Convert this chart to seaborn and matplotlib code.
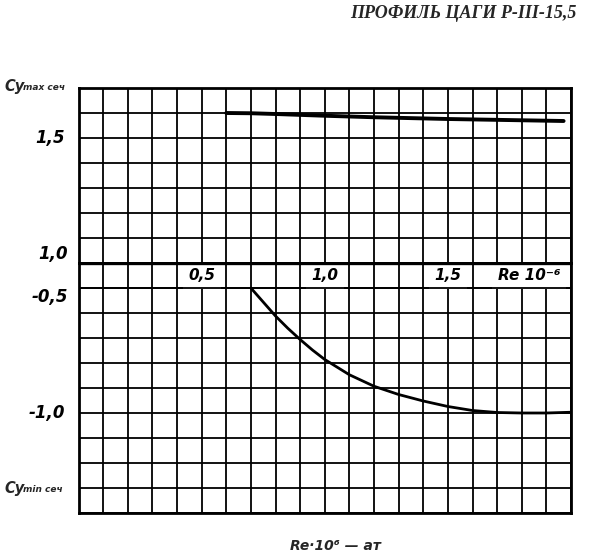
import numpy as np
import pandas as pd
import seaborn as sns
import matplotlib
matplotlib.use("Agg")
import matplotlib.pyplot as plt

# ---- data ----
title = "ПРОФИЛЬ ЦАГИ Р-III-15,5"
re_max = [0.6, 0.7, 0.8, 1.0, 1.2, 1.5, 1.97]
cy_max = [1.600, 1.599, 1.596, 1.589, 1.583, 1.576, 1.568]
re_min = [0.7, 0.75, 0.8, 0.85, 0.9, 0.95, 1.0, 1.1, 1.2, 1.3, 1.4, 1.5, 1.6,
          1.7, 1.8, 1.9, 2.0]
cy_min = [-0.5, -0.556, -0.612, -0.661, -0.706, -0.748, -0.786, -0.847, -0.893,
          -0.926, -0.952, -0.974, -0.99, -0.998, -1.0, -1.0, -0.997]
x_tick_values = [0.5, 1.0, 1.5]
x_tick_labels = ["0,5", "1,0", "1,5"]
upper_tick_values = [1.5, 1.0]
upper_tick_labels = ["1,5", "1,0"]
lower_tick_values = [-0.5, -1.0]
lower_tick_labels = ["-0,5", "-1,0"]
x_axis_label = "Re 10⁻⁶"
upper_range = (1.0, 1.7)
lower_range = (-1.4, -0.4)
x_range = (0.0, 2.0)

sns.set_style("white")
plt.rcParams['font.family'] = ['DejaVu Sans']

W, H = 609, 554
fig = plt.figure(figsize=(W / 100, H / 100), dpi=100)
L, R = 78.5 / W, 571 / W
ax_top = fig.add_axes([L, 1 - 263 / H, R - L, 175 / H])
ax_bot = fig.add_axes([L, 1 - 513 / H, R - L, 250 / H])

for ax, (lo, hi) in ((ax_top, upper_range), (ax_bot, lower_range)):
    ax.set_xlim(*x_range)
    ax.set_ylim(lo, hi)
    ax.set_xticks(np.round(np.arange(x_range[0], x_range[1] + 1e-6, 0.1), 2))
    ax.set_yticks(np.round(np.arange(lo, hi + 1e-6, 0.1), 2))
    ax.grid(True, color="black", lw=1.3)
    ax.set_axisbelow(True)
    ax.tick_params(length=0, labelbottom=False, labelleft=False)
    ax.set_xlabel("")
    ax.set_ylabel("")
    for s in ax.spines.values():
        s.set_linewidth(2.0)
        s.set_color("black")

sns.lineplot(x=re_max, y=cy_max, ax=ax_top, color="black", lw=2.8,
             estimator=None, sort=False)
sns.lineplot(x=re_min, y=cy_min, ax=ax_bot, color="black", lw=2.0,
             estimator=None, sort=False)

lab_kw = dict(fontsize=11, style="italic", weight="bold", color="black")
box = dict(fc="white", ec="none", pad=4)
row_y = (lower_range[1] + lower_tick_values[0]) / 2
for v, lab in zip(x_tick_values, x_tick_labels):
    ax_bot.text(v, row_y, lab, ha="center", va="center", bbox=box, zorder=5, **lab_kw)
ax_bot.text(1.83, row_y, x_axis_label, ha="center", va="center",
            bbox=box, zorder=5, **lab_kw)
# redraw the two horizontal lines bounding the label row above the label boxes
ax_bot.axhline(lower_range[1], color="black", lw=2.4, zorder=6)
ax_bot.axhline(lower_tick_values[0], color="black", lw=1.3, zorder=6)

ylab_kw = dict(fontsize=12, style="italic", weight="bold", color="black")
tt = ax_top.get_yaxis_transform()
tb = ax_bot.get_yaxis_transform()
ax_top.text(-0.027, upper_tick_values[0], upper_tick_labels[0], transform=tt,
            ha="right", va="center", **ylab_kw)
ax_top.text(-0.022, upper_tick_values[1], upper_tick_labels[1], transform=tt,
            ha="right", va="bottom", **ylab_kw)
ax_bot.text(-0.022, lower_tick_values[0], lower_tick_labels[0], transform=tb,
            ha="right", va="top", **ylab_kw)
ax_bot.text(-0.027, lower_tick_values[1], lower_tick_labels[1], transform=tb,
            ha="right", va="center", **ylab_kw)

# axis titles (Cy max / Cy min)
def cy_label(ypix, sub):
    fig.text(4 / W, 1 - ypix / H, "Cy", fontsize=10.5, style="italic", weight="bold",
             ha="left", va="center")
    fig.text(23 / W, 1 - (ypix + 1) / H, sub, fontsize=6.5, style="italic", weight="bold",
             ha="left", va="center")

cy_label(87, "max сеч")
cy_label(488, "min сеч")

fig.text(577 / W, 1 - 13 / H, title, ha="right", va="center", fontsize=13,
         style="italic", weight="bold", family=["Liberation Serif", "DejaVu Serif"])

fig.text(290 / W, 1.5 / H, "Re·10⁶ — ат", ha="left", va="bottom",
         fontsize=10, style="italic", weight="bold")

fig.savefig("out.png", dpi=100)
